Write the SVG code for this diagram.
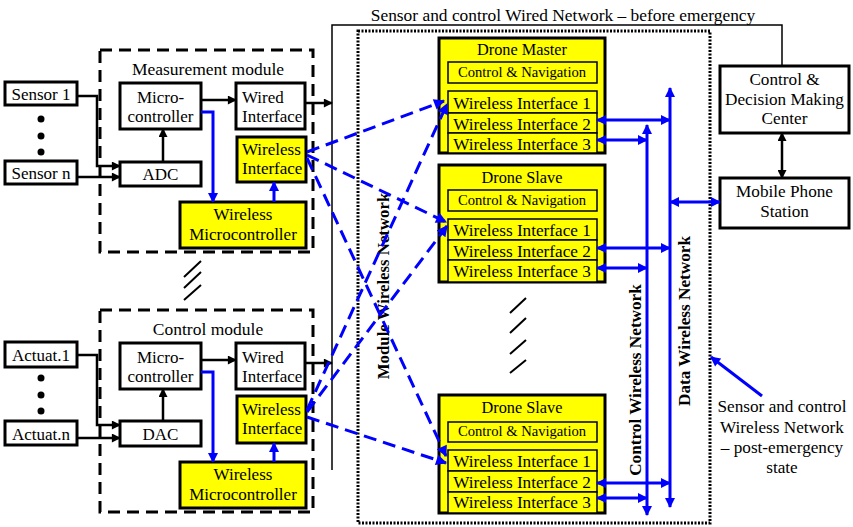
<svg xmlns="http://www.w3.org/2000/svg" width="853" height="527" viewBox="0 0 853 527">
<style>
.box{fill:#fff;stroke:#000;stroke-width:3}
.ybox{fill:#ff0;stroke:#000;stroke-width:3}
.ibox{fill:#ff0;stroke:#000;stroke-width:1.5}
.mod{fill:none;stroke:#000;stroke-width:3;stroke-dasharray:12 7}
.dot{fill:none;stroke:#000;stroke-width:3;stroke-dasharray:2 1.5}
.t{font-family:"Liberation Serif","Times New Roman",serif;font-size:17px;fill:#000}
.s16{font-size:17.2px}
.sd{font-size:16.3px}
.s14{font-size:14.6px}
.c{text-anchor:middle}
.b{font-weight:bold}
.blk{stroke:#000;stroke-width:2.5;fill:none}
.thin{stroke:#000;stroke-width:1.5;fill:none}
.blu{stroke:#00f;stroke-width:3;fill:none}
.bd{stroke:#00f;stroke-width:3;stroke-dasharray:13 7;fill:none}
.sl{stroke:#000;stroke-width:2;fill:none}
</style>
<defs>
<marker id="ak" viewBox="0 0 10 10" refX="9" refY="5" markerWidth="10" markerHeight="9" markerUnits="userSpaceOnUse" orient="auto-start-reverse"><path d="M0,0 L10,5 L0,10 z" fill="#000"/></marker>
<marker id="ab" viewBox="0 0 10 10" refX="9" refY="5" markerWidth="11" markerHeight="10" markerUnits="userSpaceOnUse" orient="auto-start-reverse"><path d="M0,0 L10,5 L0,10 z" fill="#00f"/></marker>
<marker id="abd" viewBox="0 0 10 10" refX="9" refY="5" markerWidth="13" markerHeight="11" markerUnits="userSpaceOnUse" orient="auto"><path d="M0,0 L10,5 L0,10 z" fill="#00f"/></marker>
</defs>

<text class="t" x="563" y="21" style="font-size:17.4px" text-anchor="middle">Sensor and control Wired Network – before emergency</text>
<rect class="dot" x="358" y="31" width="352" height="492"/>

<g id="measurement-module">
<rect class="mod" x="100" y="50" width="213" height="202"/>
<text class="t c" x="208" y="75" style="font-size:17.5px">Measurement module</text>
</g>
<g id="sensor-1"><rect class="box" x="5" y="82" width="72" height="23"/><text class="t c" x="41" y="99.5">Sensor 1</text></g>
<g id="sensor-dots"><circle cx="41" cy="119" r="3.5"/><circle cx="41" cy="136" r="3.5"/><circle cx="41" cy="152" r="3.5"/></g>
<g id="sensor-n"><rect class="box" x="5" y="161" width="72" height="23"/><text class="t c" x="41" y="178.5">Sensor n</text></g>
<g id="m-micro"><rect class="box" x="120" y="83" width="81" height="46"/><text class="t c" x="160.5" y="103">Micro-</text><text class="t c" x="160.5" y="122">controller</text></g>
<g id="m-adc"><rect class="box" x="120" y="162" width="81" height="24"/><text class="t c" x="160.5" y="180">ADC</text></g>
<g id="m-wired"><rect class="box" x="236" y="83" width="69" height="46"/><text class="t" x="242" y="103">Wired</text><text class="t" x="242" y="122">Interface</text></g>
<g id="m-wireless"><rect class="ybox" x="237" y="137" width="69" height="45"/><text class="t" x="242" y="155">Wireless</text><text class="t" x="242" y="174">Interface</text></g>
<g id="m-wmicro"><rect class="ybox" x="180" y="202" width="126" height="46"/><text class="t c" x="243" y="220">Wireless</text><text class="t c" x="243" y="240">Microcontroller</text></g>

<g id="control-module">
<rect class="mod" x="100" y="310" width="213" height="202"/>
<text class="t c" x="208" y="335" style="font-size:17.5px">Control module</text>
</g>
<g id="actuat-1"><rect class="box" x="5" y="342" width="72" height="25"/><text class="t c" x="41" y="360.5">Actuat.1</text></g>
<g id="actuat-dots"><circle cx="41" cy="378" r="3.5"/><circle cx="41" cy="395" r="3.5"/><circle cx="41" cy="411" r="3.5"/></g>
<g id="actuat-n"><rect class="box" x="5" y="421" width="72" height="24"/><text class="t c" x="41" y="439.5">Actuat.n</text></g>
<g id="c-micro"><rect class="box" x="120" y="343" width="81" height="46"/><text class="t c" x="160.5" y="363">Micro-</text><text class="t c" x="160.5" y="382">controller</text></g>
<g id="c-dac"><rect class="box" x="120" y="421" width="81" height="25"/><text class="t c" x="160.5" y="440">DAC</text></g>
<g id="c-wired"><rect class="box" x="236" y="343" width="69" height="46"/><text class="t" x="242" y="363">Wired</text><text class="t" x="242" y="382">Interface</text></g>
<g id="c-wireless"><rect class="ybox" x="237" y="396" width="69" height="47"/><text class="t" x="242" y="415">Wireless</text><text class="t" x="242" y="434">Interface</text></g>
<g id="c-wmicro"><rect class="ybox" x="180" y="462" width="126" height="46"/><text class="t c" x="243" y="480">Wireless</text><text class="t c" x="243" y="500">Microcontroller</text></g>

<g id="drone-master">
<rect class="ybox" x="439" y="38" width="166" height="115"/>
<text class="t sd c" x="522" y="55">Drone Master</text>
<rect class="ibox" x="448" y="62" width="149" height="21"/><text class="t s14 c" x="522" y="77">Control &amp; Navigation</text>
<rect class="ibox" x="448" y="91" width="149" height="22"/><text class="t s16 c" x="522" y="109">Wireless Interface 1</text>
<rect class="ibox" x="448" y="113" width="149" height="20"/><text class="t s16 c" x="522" y="130">Wireless Interface 2</text>
<rect class="ibox" x="448" y="133" width="149" height="20"/><text class="t s16 c" x="522" y="150">Wireless Interface 3</text>
</g>
<g id="drone-slave-1">
<rect class="ybox" x="439" y="165" width="166" height="117"/>
<text class="t sd c" x="522" y="183">Drone Slave</text>
<rect class="ibox" x="448" y="190" width="149" height="21"/><text class="t s14 c" x="522" y="205">Control &amp; Navigation</text>
<rect class="ibox" x="448" y="219" width="149" height="21"/><text class="t s16 c" x="522" y="236">Wireless Interface 1</text>
<rect class="ibox" x="448" y="240" width="149" height="20"/><text class="t s16 c" x="522" y="257">Wireless Interface 2</text>
<rect class="ibox" x="448" y="260" width="149" height="22"/><text class="t s16 c" x="522" y="277">Wireless Interface 3</text>
</g>
<g id="drone-slave-2">
<rect class="ybox" x="439" y="395" width="166" height="118"/>
<text class="t sd c" x="522" y="413">Drone Slave</text>
<rect class="ibox" x="448" y="422" width="149" height="20"/><text class="t s14 c" x="522" y="436">Control &amp; Navigation</text>
<rect class="ibox" x="448" y="450" width="149" height="21"/><text class="t s16 c" x="522" y="467">Wireless Interface 1</text>
<rect class="ibox" x="448" y="471" width="149" height="21"/><text class="t s16 c" x="522" y="488">Wireless Interface 2</text>
<rect class="ibox" x="448" y="492" width="149" height="21"/><text class="t s16 c" x="522" y="508">Wireless Interface 3</text>
</g>

<g id="control-center"><rect class="box" x="720" y="66" width="129" height="67"/><text class="t s16 c" x="784.5" y="85">Control &amp;</text><text class="t s16 c" x="784.5" y="105">Decision Making</text><text class="t s16 c" x="784.5" y="124">Center</text></g>
<g id="mobile-station"><rect class="box" x="720" y="178" width="129" height="50"/><text class="t s16 c" x="784.5" y="197">Mobile Phone</text><text class="t s16 c" x="784.5" y="217">Station</text></g>

<g id="labels">
<text class="t b c" style="font-size:16.8px" transform="translate(389,286) rotate(-90)">Module Wireless Network</text>
<text class="t b c" style="font-size:17.2px" transform="translate(641,380) rotate(-90)">Control Wireless Network</text>
<text class="t b c" style="font-size:17.2px" transform="translate(690,321) rotate(-90)">Data Wireless Network</text>
<text class="t s16 c" x="782" y="412">Sensor and control</text>
<text class="t s16 c" x="782" y="433">Wireless Network</text>
<text class="t s16 c" x="782" y="453">– post-emergency</text>
<text class="t s16 c" x="782" y="473">state</text>
</g>

<g id="connectors">
<path class="thin" d="M332,470 V25 H782 V66"/>
<path class="blk" d="M77,96 H97 V166 H120" marker-end="url(#ak)"/>
<path class="blk" d="M77,177 H120" marker-end="url(#ak)"/>
<path class="blk" d="M163,162 V129" marker-end="url(#ak)"/>
<path class="blk" d="M201,100 H236" marker-end="url(#ak)"/>
<path class="blk" d="M305,103 H332" marker-end="url(#ak)"/>
<path class="blu" d="M201,112 H213 V202" marker-end="url(#ab)"/>
<path class="blu" d="M274,202 V182" marker-end="url(#ab)"/>
<path class="blk" d="M77,355 H97 V425 H120" marker-end="url(#ak)"/>
<path class="blk" d="M77,438 H120" marker-end="url(#ak)"/>
<path class="blk" d="M163,421 V389" marker-end="url(#ak)"/>
<path class="blk" d="M201,360 H236" marker-end="url(#ak)"/>
<path class="blk" d="M305,363 H332" marker-end="url(#ak)"/>
<path class="blu" d="M201,372 H213 V462" marker-end="url(#ab)"/>
<path class="blu" d="M274,462 V443" marker-end="url(#ab)"/>

<path class="bd" d="M307,152 L444,101" marker-end="url(#abd)"/>
<path class="bd" d="M307,155 L446,222" marker-end="url(#abd)"/>
<path class="bd" d="M307,158 L446,456" marker-end="url(#abd)"/>
<path class="bd" d="M307,410 L447,104" marker-end="url(#abd)"/>
<path class="bd" d="M307,412 L447,226" marker-end="url(#abd)"/>
<path class="bd" d="M307,417 L446,463" marker-end="url(#abd)"/>

<path class="blu" d="M670,88 V507" marker-start="url(#ab)" marker-end="url(#ab)"/>
<path class="blu" d="M647,125 V515" marker-start="url(#ab)" marker-end="url(#ab)"/>
<path class="blu" d="M597,120 H670" marker-start="url(#ab)" marker-end="url(#ab)"/>
<path class="blu" d="M597,140 H647" marker-start="url(#ab)" marker-end="url(#ab)"/>
<path class="blu" d="M597,248 H670" marker-start="url(#ab)" marker-end="url(#ab)"/>
<path class="blu" d="M597,268 H647" marker-start="url(#ab)" marker-end="url(#ab)"/>
<path class="blu" d="M597,483 H670" marker-start="url(#ab)" marker-end="url(#ab)"/>
<path class="blu" d="M597,498 H647" marker-start="url(#ab)" marker-end="url(#ab)"/>
<path class="blu" d="M670,202 H720" marker-start="url(#ab)" marker-end="url(#ab)"/>
<path class="blk" d="M782,133 V178" marker-start="url(#ak)" marker-end="url(#ak)"/>
<path class="blu" d="M762,396 L711,357" marker-end="url(#ab)"/>
</g>

<g id="continuation-marks">
<path class="sl" d="M184,277 L201,261 M184,288 L201,272 M184,300 L201,285"/>
<path class="sl" d="M510,313 L526,298 M510,333 L526,318 M510,354 L526,340 M510,373 L526,360"/>
</g>
</svg>
